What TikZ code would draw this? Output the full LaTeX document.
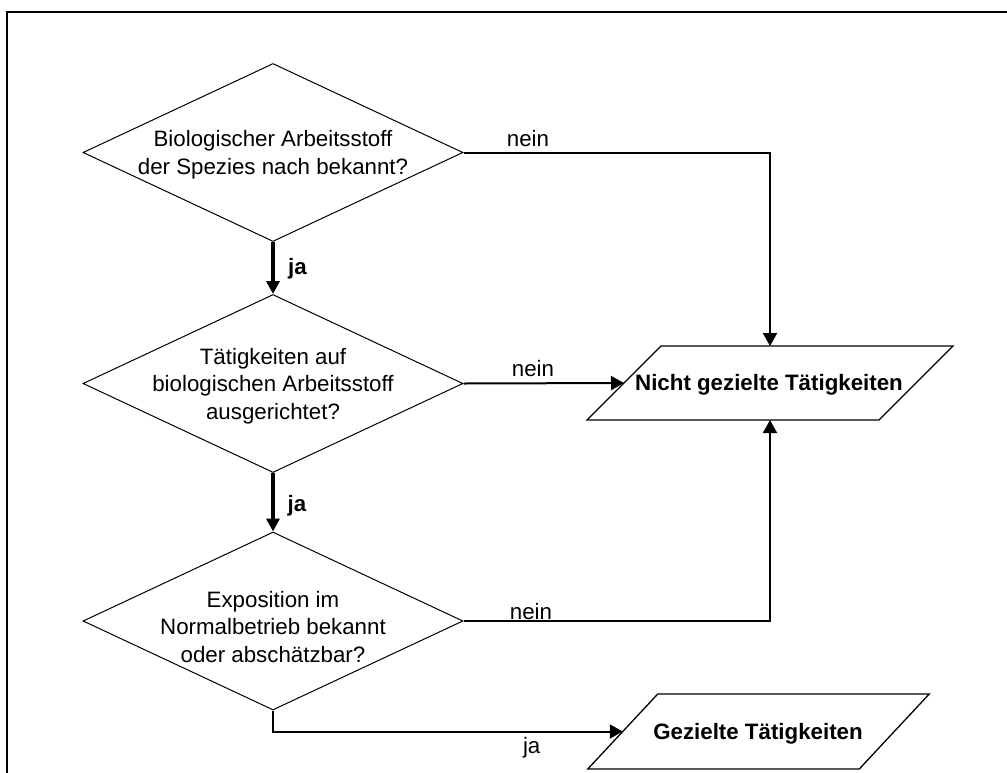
\documentclass[tikz,border=0pt]{standalone}
\usepackage{fontspec}
\setmainfont{Liberation Sans}
\usetikzlibrary{shapes.geometric,arrows.meta}
\begin{document}
\begin{tikzpicture}[x=1pt,y=-1pt,
  decision/.style={draw, line width=1pt, shape=diamond, minimum width=380pt, minimum height=178pt, inner sep=0pt},
  qtext/.style={align=center, font=\fontsize{22.3}{27.6}\selectfont, inner sep=0pt},
  outbox/.style={rectangle, inner sep=0pt, outer sep=0pt, font=\fontsize{22.3}{27.6}\selectfont\bfseries},
  outline/.style={draw, line width=1.3pt, line join=miter},
  lbl/.style={anchor=base, inner sep=0pt, font=\fontsize{22.3}{27.6}\selectfont},
  flow/.style={line width=2pt, -{Triangle[length=13pt,width=14pt]}},
  yesflow/.style={line width=3.5pt, -{Triangle[length=13pt,width=13pt]}},
  frameline/.style={line width=2.8pt}]
\useasboundingbox (0,0) rectangle (1007,772);
% frame
\draw[frameline] (7,773) -- (7,12) -- (1008,12);
% decisions
\node[decision] (d1) at (273,152.5) {};
\node[qtext] (t1) at (273,155) {Biologischer Arbeitsstoff\\der Spezies nach bekannt?};
\node[decision] (d2) at (273,383.5) {};
\node[qtext] (t2) at (273,386) {Tätigkeiten auf\\biologischen Arbeitsstoff\\ausgerichtet?};
\node[decision] (d3) at (273,621) {};
\node[qtext] (t3) at (273,627) {Exposition im\\Normalbetrieb bekannt\\oder abschätzbar?};
% outputs (parallelograms)
\node[outbox, minimum width=292pt, minimum height=74pt] (nicht) at (770,383) {};
\node[outbox] (tnicht) at (769,385) {Nicht gezielte Tätigkeiten};
\draw[outline] ([xshift=37pt]nicht.north west) -- ([xshift=37pt]nicht.north east)
  -- ([xshift=-37pt]nicht.south east) -- ([xshift=-37pt]nicht.south west) -- cycle;
\node[outbox, minimum width=271.5pt, minimum height=75pt] (gez) at (758.5,731.5) {};
\node[outbox] (tgez) at (758,733.5) {Gezielte Tätigkeiten};
\draw[outline] ([xshift=35pt]gez.north west) -- ([xshift=35pt]gez.north east)
  -- ([xshift=-35pt]gez.south east) -- ([xshift=-35pt]gez.south west) -- cycle;
% connectors
\draw[yesflow] (d1.south) -- (d2.north);
\draw[yesflow] (d2.south) -- (d3.north);
\draw[flow] (d1.east) -| (nicht.north);
\draw[flow] (d2.east) -- (nicht.west);
\draw[flow] (d3.east) -| (nicht.south);
\draw[flow] (d3.south) |- (gez.west);
% labels
\node[lbl, font=\fontsize{22.3}{27.6}\selectfont\bfseries] (ja1) at (297.5,274) {ja};
\node[lbl, font=\fontsize{22.3}{27.6}\selectfont\bfseries] (ja2) at (297,511.7) {ja};
\node[lbl] (ja3) at (531.7,753.3) {ja};
\node[lbl] (n1) at (528,146.7) {nein};
\node[lbl] (n2) at (533,376.7) {nein};
\node[lbl] (n3) at (531,619) {nein};
\end{tikzpicture}
\end{document}
